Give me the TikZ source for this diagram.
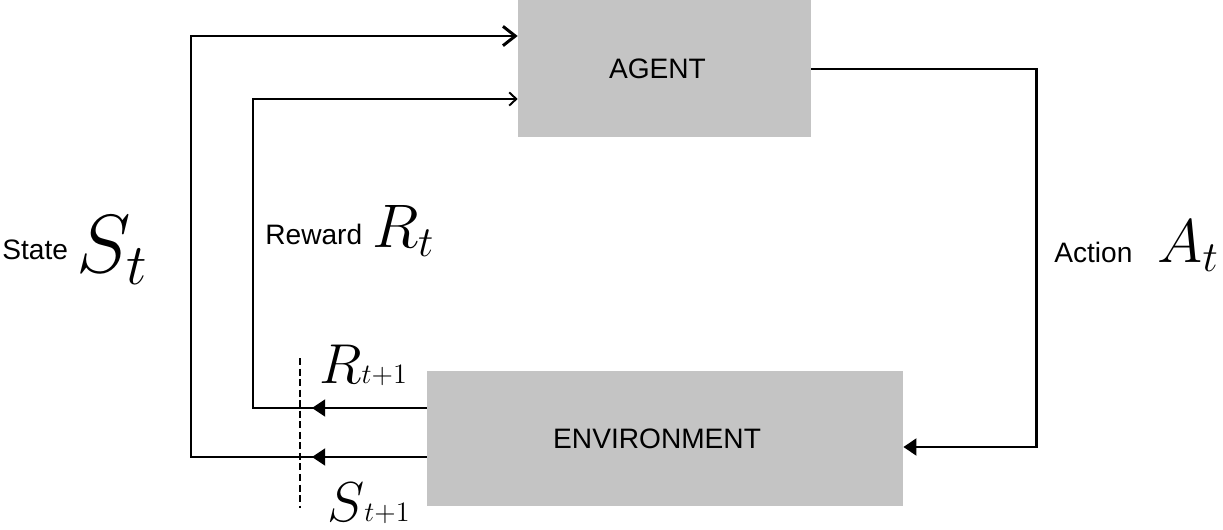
\RequirePackage{fix-cm}
\documentclass[tikz,border=0pt]{standalone}
\usepackage{fontspec}
\setmainfont{Liberation Sans}
\usepackage{tikz}
\usetikzlibrary{arrows.meta,calc,positioning}
\definecolor{boxgray}{HTML}{C4C4C4}
\tikzset{
  box/.style={fill=boxgray, text centered, font=\fontsize{16}{19}\selectfont},
  lbl/.style={inner sep=0pt, anchor=base west, font=\fontsize{16}{19}\selectfont},
  mathlbl/.style={inner sep=0pt, anchor=base west},
  thickline/.style={line width=1.7pt},
  thinline/.style={line width=1.1pt},
  cutline/.style={line width=1.2pt, dash pattern=on 4pt off 2pt},
  opentip/.style={-{Straight Barb[length=7pt,width=11pt]}},
  smalltip/.style={-{Straight Barb[length=4pt,width=7.5pt]}},
  filltip/.style={-{Triangle[length=7.5pt,width=9.5pt]}}
}
\begin{document}
\begin{tikzpicture}[x=0.02cm, y=-0.02cm]
	\useasboundingbox (0,0) rectangle (1223,530);
	\node[box, minimum width=5.86cm, minimum height=2.74cm] (agent) at (664.5,68.5) {\raisebox{-1.5pt}{AGENT}\hspace*{8pt}};
	\node[box, minimum width=9.52cm, minimum height=2.7cm] (env) at (665,438.5) {ENVIRONMENT\hspace*{9pt}};
	\coordinate (sturn) at (191,457);
	\coordinate (rturn) at (253,408);
	\coordinate (aturn) at (1036,69);
	\coordinate (cut) at (300,358);
	\coordinate (cutend) at (300,508);
	\draw[thickline, opentip] (env.west |- sturn) -- (sturn) |- ([yshift=0.65cm]agent.west);
	\draw[thickline, filltip] (env.west |- sturn) -- ([xshift=0.24cm]cut |- sturn);
	\draw[thinline, smalltip] (env.west |- rturn) -- (rturn) |- ([yshift=-0.61cm]agent.west);
	\draw[thickline, filltip] ([xshift=-0.14cm]env.west |- rturn) -- ([xshift=0.24cm]cut |- rturn);
	\draw[thickline, filltip] (agent.east |- aturn) -- (aturn) |- ([yshift=-0.17cm]env.east);
	\draw[cutline] (cut) -- (cutend);
	\node[lbl] (statelbl) at (2,259) {State};
	\node[mathlbl, font=\fontsize{47}{52}\selectfont] (statemath) at (76,272) {$S_t$};
	\node[lbl] (rewardlbl) at (265,244) {Reward};
	\node[mathlbl, font=\fontsize{35}{40}\selectfont] (rewardmath) at (372,247) {$R_t$};
	\node[lbl] (actionlbl) at (1054,262) {Action};
	\node[mathlbl, font=\fontsize{35}{40}\selectfont] (actionmath) at (1157,262) {$A_t$};
	\node[mathlbl, font=\fontsize{32}{36}\selectfont] (rnext) at (319,383) {$R{\scriptscriptstyle t+1}$};
	\node[mathlbl, font=\fontsize{32}{36}\selectfont] (snext) at (327,521) {$S{\scriptscriptstyle t+1}$};
\end{tikzpicture}
\end{document}
